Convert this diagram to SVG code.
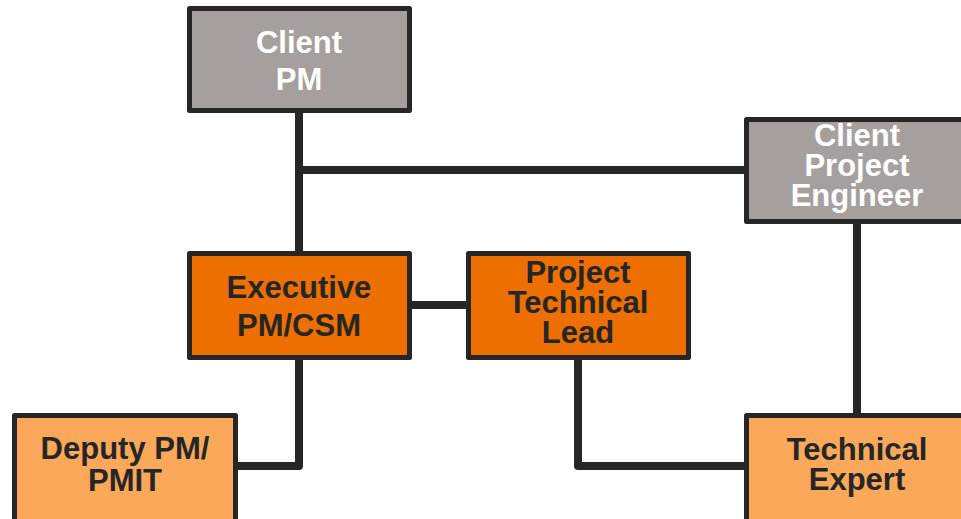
<svg xmlns="http://www.w3.org/2000/svg" width="961" height="519" viewBox="0 0 961 519">
  <style>
    .box { stroke: #262626; stroke-width: 5; stroke-linejoin: round; }
    .client { fill: #a5a09e; }
    .lead { fill: #ed6f00; }
    .staff { fill: #fba85a; }
    .wire { fill: none; stroke: #262626; stroke-width: 8; stroke-linejoin: round; }
    text { font-family: "Liberation Sans", Arial, sans-serif; font-weight: bold; font-size: 31px; text-anchor: middle; }
    .light { fill: #ffffff; }
    .dark { fill: #262626; }
  </style>
  <rect width="961" height="519" fill="#ffffff"/>

  <g id="connectors">
    <path class="wire" d="M299 112 V253"/>
    <path class="wire" d="M299 170 H746"/>
    <path class="wire" d="M411 305 H468"/>
    <path class="wire" d="M299 358 V466 H236"/>
    <path class="wire" d="M578 358 V466 H746"/>
    <path class="wire" d="M857 222 V415"/>
  </g>

  <g id="client-pm">
    <rect class="box client" x="189.5" y="8.5" width="220" height="102"/>
    <text class="light" x="299" y="53">Client</text>
    <text class="light" x="299" y="90">PM</text>
  </g>

  <g id="client-project-engineer">
    <rect class="box client" x="746.5" y="119.5" width="222" height="102"/>
    <text class="light" x="857" y="146">Client</text>
    <text class="light" x="857" y="176">Project</text>
    <text class="light" x="857" y="206">Engineer</text>
  </g>

  <g id="executive-pm">
    <rect class="box lead" x="189.5" y="253.5" width="220" height="104"/>
    <text class="dark" x="299" y="298">Executive</text>
    <text class="dark" x="299" y="336">PM/CSM</text>
  </g>

  <g id="project-technical-lead">
    <rect class="box lead" x="468.5" y="253.5" width="220" height="104"/>
    <text class="dark" x="578" y="283">Project</text>
    <text class="dark" x="578" y="313">Technical</text>
    <text class="dark" x="578" y="343">Lead</text>
  </g>

  <g id="deputy-pm">
    <rect class="box staff" x="14.5" y="415.5" width="221" height="112"/>
    <text class="dark" x="125" y="459">Deputy PM/</text>
    <text class="dark" x="125" y="491">PMIT</text>
  </g>

  <g id="technical-expert">
    <rect class="box staff" x="746.5" y="415.5" width="222" height="112"/>
    <text class="dark" x="857" y="460">Technical</text>
    <text class="dark" x="857" y="490">Expert</text>
  </g>
</svg>
